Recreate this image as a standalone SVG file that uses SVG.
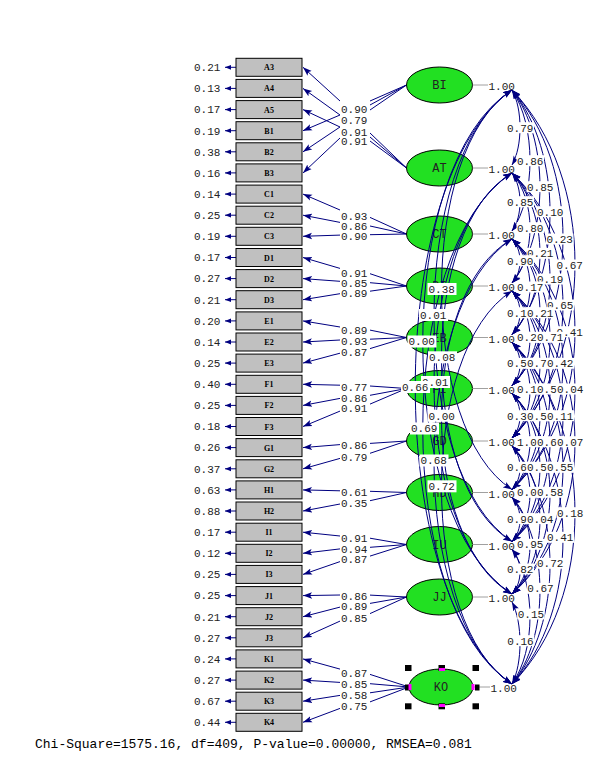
<svg xmlns="http://www.w3.org/2000/svg" width="602" height="776" viewBox="0 0 602 776">
<defs>
<style>
.n{font-family:"Liberation Mono",monospace;font-size:11px;fill:#222}
.bl{font-family:"Liberation Serif",serif;font-size:8px;font-weight:bold;text-anchor:middle;fill:#000}
.fl{font-family:"Liberation Mono",monospace;font-size:12px;text-anchor:middle;fill:#222}
.box{fill:#C0C0C0;stroke:#000;stroke-width:1}
.ell{fill:#22E022;stroke:#000;stroke-width:1}
.ln{stroke:#000080;fill:none;stroke-width:1}
.gv{stroke:#A0A0A0;stroke-width:1}
.wb{fill:#fff}
.hd{fill:#000}
.mg{fill:#FF00FF}
</style>
<marker id="ah" markerUnits="userSpaceOnUse" markerWidth="10" markerHeight="8" refX="9" refY="4" orient="auto-start-reverse"><path d="M0,0.8 L9,4 L0,7.2 L2,4 z" fill="#000080"/></marker>
<marker id="ea" markerUnits="userSpaceOnUse" markerWidth="7" markerHeight="6" refX="6" refY="3" orient="auto"><path d="M0,0.6 L6,3 L0,5.4 z" fill="#000080"/></marker>
</defs>
<rect width="602" height="776" fill="#fff"/>

<g id="indicators">
<g id="A3"><path class="ln" d="M236,67.3 H225" marker-end="url(#ea)"/><text class="n" x="194" y="71.1">0.21</text><rect class="box" x="236" y="58.3" width="66" height="18"/><text class="bl" x="269" y="70.3">A3</text></g>
<g id="A4"><path class="ln" d="M236,88.4 H225" marker-end="url(#ea)"/><text class="n" x="194" y="92.2">0.13</text><rect class="box" x="236" y="79.4" width="66" height="18"/><text class="bl" x="269" y="91.4">A4</text></g>
<g id="A5"><path class="ln" d="M236,109.6 H225" marker-end="url(#ea)"/><text class="n" x="194" y="113.4">0.17</text><rect class="box" x="236" y="100.6" width="66" height="18"/><text class="bl" x="269" y="112.6">A5</text></g>
<g id="B1"><path class="ln" d="M236,130.7 H225" marker-end="url(#ea)"/><text class="n" x="194" y="134.5">0.19</text><rect class="box" x="236" y="121.7" width="66" height="18"/><text class="bl" x="269" y="133.7">B1</text></g>
<g id="B2"><path class="ln" d="M236,151.8 H225" marker-end="url(#ea)"/><text class="n" x="194" y="155.6">0.38</text><rect class="box" x="236" y="142.8" width="66" height="18"/><text class="bl" x="269" y="154.8">B2</text></g>
<g id="B3"><path class="ln" d="M236,172.9 H225" marker-end="url(#ea)"/><text class="n" x="194" y="176.7">0.16</text><rect class="box" x="236" y="163.9" width="66" height="18"/><text class="bl" x="269" y="175.9">B3</text></g>
<g id="C1"><path class="ln" d="M236,194.1 H225" marker-end="url(#ea)"/><text class="n" x="194" y="197.9">0.14</text><rect class="box" x="236" y="185.1" width="66" height="18"/><text class="bl" x="269" y="197.1">C1</text></g>
<g id="C2"><path class="ln" d="M236,215.2 H225" marker-end="url(#ea)"/><text class="n" x="194" y="219">0.25</text><rect class="box" x="236" y="206.2" width="66" height="18"/><text class="bl" x="269" y="218.2">C2</text></g>
<g id="C3"><path class="ln" d="M236,236.3 H225" marker-end="url(#ea)"/><text class="n" x="194" y="240.1">0.19</text><rect class="box" x="236" y="227.3" width="66" height="18"/><text class="bl" x="269" y="239.3">C3</text></g>
<g id="D1"><path class="ln" d="M236,257.5 H225" marker-end="url(#ea)"/><text class="n" x="194" y="261.3">0.17</text><rect class="box" x="236" y="248.5" width="66" height="18"/><text class="bl" x="269" y="260.5">D1</text></g>
<g id="D2"><path class="ln" d="M236,278.6 H225" marker-end="url(#ea)"/><text class="n" x="194" y="282.4">0.27</text><rect class="box" x="236" y="269.6" width="66" height="18"/><text class="bl" x="269" y="281.6">D2</text></g>
<g id="D3"><path class="ln" d="M236,299.7 H225" marker-end="url(#ea)"/><text class="n" x="194" y="303.5">0.21</text><rect class="box" x="236" y="290.7" width="66" height="18"/><text class="bl" x="269" y="302.7">D3</text></g>
<g id="E1"><path class="ln" d="M236,320.9 H225" marker-end="url(#ea)"/><text class="n" x="194" y="324.7">0.20</text><rect class="box" x="236" y="311.9" width="66" height="18"/><text class="bl" x="269" y="323.9">E1</text></g>
<g id="E2"><path class="ln" d="M236,342 H225" marker-end="url(#ea)"/><text class="n" x="194" y="345.8">0.14</text><rect class="box" x="236" y="333" width="66" height="18"/><text class="bl" x="269" y="345">E2</text></g>
<g id="E3"><path class="ln" d="M236,363.1 H225" marker-end="url(#ea)"/><text class="n" x="194" y="366.9">0.25</text><rect class="box" x="236" y="354.1" width="66" height="18"/><text class="bl" x="269" y="366.1">E3</text></g>
<g id="F1"><path class="ln" d="M236,384.3 H225" marker-end="url(#ea)"/><text class="n" x="194" y="388.1">0.40</text><rect class="box" x="236" y="375.3" width="66" height="18"/><text class="bl" x="269" y="387.3">F1</text></g>
<g id="F2"><path class="ln" d="M236,405.4 H225" marker-end="url(#ea)"/><text class="n" x="194" y="409.2">0.25</text><rect class="box" x="236" y="396.4" width="66" height="18"/><text class="bl" x="269" y="408.4">F2</text></g>
<g id="F3"><path class="ln" d="M236,426.5 H225" marker-end="url(#ea)"/><text class="n" x="194" y="430.3">0.18</text><rect class="box" x="236" y="417.5" width="66" height="18"/><text class="bl" x="269" y="429.5">F3</text></g>
<g id="G1"><path class="ln" d="M236,447.6 H225" marker-end="url(#ea)"/><text class="n" x="194" y="451.4">0.26</text><rect class="box" x="236" y="438.6" width="66" height="18"/><text class="bl" x="269" y="450.6">G1</text></g>
<g id="G2"><path class="ln" d="M236,468.8 H225" marker-end="url(#ea)"/><text class="n" x="194" y="472.6">0.37</text><rect class="box" x="236" y="459.8" width="66" height="18"/><text class="bl" x="269" y="471.8">G2</text></g>
<g id="H1"><path class="ln" d="M236,489.9 H225" marker-end="url(#ea)"/><text class="n" x="194" y="493.7">0.63</text><rect class="box" x="236" y="480.9" width="66" height="18"/><text class="bl" x="269" y="492.9">H1</text></g>
<g id="H2"><path class="ln" d="M236,511 H225" marker-end="url(#ea)"/><text class="n" x="194" y="514.8">0.88</text><rect class="box" x="236" y="502" width="66" height="18"/><text class="bl" x="269" y="514">H2</text></g>
<g id="I1"><path class="ln" d="M236,532.2 H225" marker-end="url(#ea)"/><text class="n" x="194" y="536">0.17</text><rect class="box" x="236" y="523.2" width="66" height="18"/><text class="bl" x="269" y="535.2">I1</text></g>
<g id="I2"><path class="ln" d="M236,553.3 H225" marker-end="url(#ea)"/><text class="n" x="194" y="557.1">0.12</text><rect class="box" x="236" y="544.3" width="66" height="18"/><text class="bl" x="269" y="556.3">I2</text></g>
<g id="I3"><path class="ln" d="M236,574.4 H225" marker-end="url(#ea)"/><text class="n" x="194" y="578.2">0.25</text><rect class="box" x="236" y="565.4" width="66" height="18"/><text class="bl" x="269" y="577.4">I3</text></g>
<g id="J1"><path class="ln" d="M236,595.6 H225" marker-end="url(#ea)"/><text class="n" x="194" y="599.4">0.25</text><rect class="box" x="236" y="586.6" width="66" height="18"/><text class="bl" x="269" y="598.6">J1</text></g>
<g id="J2"><path class="ln" d="M236,616.7 H225" marker-end="url(#ea)"/><text class="n" x="194" y="620.5">0.21</text><rect class="box" x="236" y="607.7" width="66" height="18"/><text class="bl" x="269" y="619.7">J2</text></g>
<g id="J3"><path class="ln" d="M236,637.8 H225" marker-end="url(#ea)"/><text class="n" x="194" y="641.6">0.27</text><rect class="box" x="236" y="628.8" width="66" height="18"/><text class="bl" x="269" y="640.8">J3</text></g>
<g id="K1"><path class="ln" d="M236,658.9 H225" marker-end="url(#ea)"/><text class="n" x="194" y="662.7">0.24</text><rect class="box" x="236" y="649.9" width="66" height="18"/><text class="bl" x="269" y="661.9">K1</text></g>
<g id="K2"><path class="ln" d="M236,680.1 H225" marker-end="url(#ea)"/><text class="n" x="194" y="683.9">0.27</text><rect class="box" x="236" y="671.1" width="66" height="18"/><text class="bl" x="269" y="683.1">K2</text></g>
<g id="K3"><path class="ln" d="M236,701.2 H225" marker-end="url(#ea)"/><text class="n" x="194" y="705">0.67</text><rect class="box" x="236" y="692.2" width="66" height="18"/><text class="bl" x="269" y="704.2">K3</text></g>
<g id="K4"><path class="ln" d="M236,722.3 H225" marker-end="url(#ea)"/><text class="n" x="194" y="726.1">0.44</text><rect class="box" x="236" y="713.3" width="66" height="18"/><text class="bl" x="269" y="725.3">K4</text></g>
</g>

<g id="loadings">
<g class="ln" marker-end="url(#ah)">
<path d="M406.5,168 L370,133 M340,101 L303,67.3"/>
<path d="M406.5,168 L370,137 M340,115 L303,88.4"/>
<path d="M406.5,168 L370,141 M340,127 L303,109.6"/>
<path d="M406.5,85 L370,101 M340,115 L303,130.7"/>
<path d="M406.5,85 L370,105 M340,127 L303,151.8"/>
<path d="M406.5,85 L370,110 M340,138 L303,172.9"/>
<path d="M406.5,234 L370,217.4 M340,210 L303,194.1"/>
<path d="M406.5,234 L370,226 M340,222.4 L303,215.2"/>
<path d="M406.5,234 L370,234.7 M340,235.1 L303,236.3"/>
<path d="M406.5,286 L370,273.7 M340,268.4 L303,257.5"/>
<path d="M406.5,286 L370,282.7 M340,281.3 L303,278.6"/>
<path d="M406.5,286 L370,291.2 M340,293.7 L303,299.7"/>
<path d="M406.5,337.5 L370,330.1 M340,327 L303,320.9"/>
<path d="M406.5,337.5 L370,339.2 M340,340 L303,342"/>
<path d="M406.5,337.5 L370,348.6 M340,353.2 L303,363.1"/>
<path d="M406.5,388.5 L370,386 M340,385.2 L303,384.3"/>
<path d="M406.5,388.5 L370,395.3 M340,398.4 L303,405.4"/>
<path d="M406.5,388.5 L370,404.1 M340,411.1 L303,426.5"/>
<path d="M406.5,441 L370,443.4 M340,444.6 L303,447.6"/>
<path d="M406.5,441 L370,453.3 M340,458.4 L303,468.8"/>
<path d="M406.5,492.5 L370,491.3 M340,490.8 L303,489.9"/>
<path d="M406.5,492.5 L370,500.7 M340,504 L303,511"/>
<path d="M406.5,544.5 L370,538.2 M340,536 L303,532.2"/>
<path d="M406.5,544.5 L370,547.3 M340,548.9 L303,553.3"/>
<path d="M406.5,544.5 L370,556.1 M340,561.6 L303,574.4"/>
<path d="M406.5,597 L370,595.1 M340,595 L303,595.6"/>
<path d="M406.5,597 L370,603.4 M340,607.1 L303,616.7"/>
<path d="M406.5,597 L370,613.6 M340,621.1 L303,637.8"/>
<path d="M409,687 L370,674.4 M340,669.1 L303,658.9"/>
<path d="M409,687 L370,683.7 M340,682.4 L303,680.1"/>
<path d="M409,687 L370,692.8 M340,695.4 L303,701.2"/>
<path d="M409,687 L370,701.9 M340,708.4 L303,722.3"/>
</g>
<text class="n" x="341" y="113.1">0.90</text>
<text class="n" x="341" y="123.8">0.79</text>
<text class="n" x="341" y="135.5">0.91</text>
<text class="n" x="341" y="144.8">0.91</text>
<text class="n" x="341" y="219.5">0.93</text>
<text class="n" x="341" y="229.5">0.86</text>
<text class="n" x="341" y="239.8">0.90</text>
<text class="n" x="341" y="276.5">0.91</text>
<text class="n" x="341" y="287.1">0.85</text>
<text class="n" x="341" y="297.1">0.89</text>
<text class="n" x="341" y="333.8">0.89</text>
<text class="n" x="341" y="344.5">0.93</text>
<text class="n" x="341" y="355.5">0.87</text>
<text class="n" x="341" y="390.5">0.77</text>
<text class="n" x="341" y="401.5">0.86</text>
<text class="n" x="341" y="411.8">0.91</text>
<text class="n" x="341" y="448.8">0.86</text>
<text class="n" x="341" y="460.5">0.79</text>
<text class="n" x="341" y="496.1">0.61</text>
<text class="n" x="341" y="507.1">0.35</text>
<text class="n" x="341" y="542.1">0.91</text>
<text class="n" x="341" y="552.8">0.94</text>
<text class="n" x="341" y="563.1">0.87</text>
<text class="n" x="341" y="599.8">0.86</text>
<text class="n" x="341" y="609.5">0.89</text>
<text class="n" x="341" y="621.5">0.85</text>
<text class="n" x="341" y="677.1">0.87</text>
<text class="n" x="341" y="688.1">0.85</text>
<text class="n" x="341" y="698.8">0.58</text>
<text class="n" x="341" y="709.5">0.75</text>
</g>

<g id="factors">
<g id="BI"><ellipse class="ell" cx="439.5" cy="85" rx="33" ry="18"/><text class="fl" x="439.5" y="89">BI</text><line class="gv" x1="472.5" y1="85" x2="488" y2="85"/><text class="n" x="488.5" y="90.3">1.00</text></g>
<g id="AT"><ellipse class="ell" cx="439.5" cy="168" rx="33" ry="18"/><text class="fl" x="439.5" y="172">AT</text><line class="gv" x1="472.5" y1="168" x2="488" y2="168"/><text class="n" x="488.5" y="173.3">1.00</text></g>
<g id="CT"><ellipse class="ell" cx="439.5" cy="234" rx="33" ry="18"/><text class="fl" x="439.5" y="238">CT</text><line class="gv" x1="472.5" y1="234" x2="488" y2="234"/><text class="n" x="488.5" y="239.3">1.00</text></g>
<g id="DI"><ellipse class="ell" cx="439.5" cy="286" rx="33" ry="18"/><text class="fl" x="439.5" y="290">DI</text><line class="gv" x1="472.5" y1="286" x2="488" y2="286"/><text class="n" x="488.5" y="291.3">1.00</text></g>
<g id="EB"><ellipse class="ell" cx="439.5" cy="337.5" rx="33" ry="18"/><text class="fl" x="439.5" y="341.5">EB</text><line class="gv" x1="472.5" y1="337.5" x2="488" y2="337.5"/><text class="n" x="488.5" y="342.8">1.00</text></g>
<g id="FI"><ellipse class="ell" cx="439.5" cy="388.5" rx="33" ry="18"/><text class="fl" x="439.5" y="392.5">FI</text><line class="gv" x1="472.5" y1="388.5" x2="488" y2="388.5"/><text class="n" x="488.5" y="393.8">1.00</text></g>
<g id="GD"><ellipse class="ell" cx="439.5" cy="441" rx="33" ry="18"/><text class="fl" x="439.5" y="445">GD</text><line class="gv" x1="472.5" y1="441" x2="488" y2="441"/><text class="n" x="488.5" y="446.3">1.00</text></g>
<g id="HD"><ellipse class="ell" cx="439.5" cy="492.5" rx="33" ry="18"/><text class="fl" x="439.5" y="496.5">HD</text><line class="gv" x1="472.5" y1="492.5" x2="488" y2="492.5"/><text class="n" x="488.5" y="497.8">1.00</text></g>
<g id="IU"><ellipse class="ell" cx="439.5" cy="544.5" rx="33" ry="18"/><text class="fl" x="439.5" y="548.5">IU</text><line class="gv" x1="472.5" y1="544.5" x2="488" y2="544.5"/><text class="n" x="488.5" y="549.8">1.00</text></g>
<g id="JJ"><ellipse class="ell" cx="439.5" cy="597" rx="33" ry="18"/><text class="fl" x="439.5" y="601">JJ</text><line class="gv" x1="472.5" y1="597" x2="488" y2="597"/><text class="n" x="488.5" y="602.3">1.00</text></g>
<g id="KO"><ellipse class="ell" cx="441" cy="687" rx="32" ry="18"/><text class="fl" x="441" y="691">KO</text><line class="gv" x1="473" y1="687" x2="490" y2="687"/><text class="n" x="490.5" y="692.3">1.00</text></g>
</g>

<g id="covariances">
<g class="ln" marker-start="url(#ah)" marker-end="url(#ah)">
<path d="M512,90 C522.7,108.8 522.7,146.3 512,165"/>
<path d="M512,173 C522.7,187.5 522.7,216.5 512,231"/>
<path d="M512,239 C522.7,250 522.7,272 512,283"/>
<path d="M512,291 C522.7,301.9 522.7,323.6 512,334.5"/>
<path d="M512,342.5 C522.7,353.3 522.7,374.8 512,385.5"/>
<path d="M512,393.5 C522.7,404.6 522.7,426.9 512,438"/>
<path d="M512,446 C522.7,456.9 522.7,478.6 512,489.5"/>
<path d="M512,497.5 C522.7,508.5 522.7,530.5 512,541.5"/>
<path d="M512,549.5 C522.7,560.6 522.7,582.9 512,594"/>
<path d="M512,602 C522.7,622.5 522.7,663.5 512,684"/>
<path d="M512,90 C536,125.3 536,195.8 512,231"/>
<path d="M512,173 C536,200.5 536,255.5 512,283"/>
<path d="M512,239 C536,262.9 536,310.6 512,334.5"/>
<path d="M512,291 C536,314.6 536,361.9 512,385.5"/>
<path d="M512,342.5 C536,366.4 536,414.1 512,438"/>
<path d="M512,393.5 C536,417.5 536,465.5 512,489.5"/>
<path d="M512,446 C536,469.9 536,517.6 512,541.5"/>
<path d="M512,497.5 C536,521.6 536,569.9 512,594"/>
<path d="M512,549.5 C536,583.1 536,650.4 512,684"/>
<path d="M512,90 C549.3,138.3 549.3,234.8 512,283"/>
<path d="M512,173 C549.3,213.4 549.3,294.1 512,334.5"/>
<path d="M512,239 C549.3,275.6 549.3,348.9 512,385.5"/>
<path d="M512,291 C549.3,327.8 549.3,401.3 512,438"/>
<path d="M512,342.5 C549.3,379.3 549.3,452.8 512,489.5"/>
<path d="M512,393.5 C549.3,430.5 549.3,504.5 512,541.5"/>
<path d="M512,446 C549.3,483 549.3,557 512,594"/>
<path d="M512,497.5 C549.3,544.1 549.3,637.4 512,684"/>
<path d="M512,90 C562.7,151.1 562.7,273.4 512,334.5"/>
<path d="M512,173 C562.7,226.1 562.7,332.4 512,385.5"/>
<path d="M512,239 C562.7,288.8 562.7,388.3 512,438"/>
<path d="M512,291 C562.7,340.6 562.7,439.9 512,489.5"/>
<path d="M512,342.5 C562.7,392.3 562.7,491.8 512,541.5"/>
<path d="M512,393.5 C562.7,443.6 562.7,543.9 512,594"/>
<path d="M512,446 C562.7,505.5 562.7,624.5 512,684"/>
<path d="M512,90 C580,163.9 580,311.6 512,385.5"/>
<path d="M512,173 C580,239.3 580,371.8 512,438"/>
<path d="M512,239 C580,301.6 580,426.9 512,489.5"/>
<path d="M512,291 C580,353.6 580,478.9 512,541.5"/>
<path d="M512,342.5 C580,405.4 580,531.1 512,594"/>
<path d="M512,393.5 C580,466.1 580,611.4 512,684"/>
<path d="M512,90 C596,177 596,351 512,438"/>
<path d="M512,173 C596,252.1 596,410.4 512,489.5"/>
<path d="M512,239 C596,314.6 596,465.9 512,541.5"/>
<path d="M512,291 C596,366.8 596,518.3 512,594"/>
<path d="M512,342.5 C596,427.9 596,598.6 512,684"/>
<path d="M512,90 C418,149.9 418,429.6 512,489.5"/>
<path d="M512,173 C418,228.3 418,486.2 512,541.5"/>
<path d="M512,239 C418,292.3 418,540.8 512,594"/>
<path d="M512,291 C418,350 418,625 512,684"/>
<path d="M512,90 C408,157.7 408,473.8 512,541.5"/>
<path d="M512,173 C408,236.2 408,530.8 512,594"/>
<path d="M512,239 C408,305.8 408,617.3 512,684"/>
<path d="M512,90 C393,165.6 393,518.4 512,594"/>
<path d="M512,173 C393,249.7 393,607.4 512,684"/>
<path d="M512,90 C383,179.1 383,594.9 512,684"/>
</g>
<g id="cov-labels">
<rect class="wb" x="506.5" y="122.2" width="27.5" height="11"/><text class="n" x="507" y="131.5">0.79</text>
<rect class="wb" x="516.5" y="155.2" width="27.5" height="11"/><text class="n" x="517" y="164.5">0.86</text>
<rect class="wb" x="526.5" y="181.2" width="27.5" height="11"/><text class="n" x="527" y="190.5">0.85</text>
<rect class="wb" x="506.5" y="196.2" width="27.5" height="11"/><text class="n" x="507" y="205.5">0.85</text>
<rect class="wb" x="536.5" y="206.2" width="27.5" height="11"/><text class="n" x="537" y="215.5">0.10</text>
<rect class="wb" x="516.5" y="222.2" width="27.5" height="11"/><text class="n" x="517" y="231.5">0.80</text>
<rect class="wb" x="546" y="233.5" width="27.5" height="11"/><text class="n" x="546.5" y="242.8">0.23</text>
<rect class="wb" x="526.5" y="247.8" width="27.5" height="11"/><text class="n" x="527" y="257.1">0.21</text>
<rect class="wb" x="506.5" y="255.2" width="27.5" height="11"/><text class="n" x="507" y="264.5">0.90</text>
<rect class="wb" x="556" y="259.5" width="27.5" height="11"/><text class="n" x="556.5" y="268.8">0.67</text>
<rect class="wb" x="536.5" y="273.5" width="27.5" height="11"/><text class="n" x="537" y="282.8">0.19</text>
<rect class="wb" x="516.5" y="281.5" width="27.5" height="11"/><text class="n" x="517" y="290.8">0.17</text>
<rect class="wb" x="546.5" y="299.5" width="27.5" height="11"/><text class="n" x="547" y="308.8">0.65</text>
<rect class="wb" x="506.5" y="307.2" width="27.5" height="11"/><text class="n" x="507" y="316.5">0.10</text>
<rect class="wb" x="526.5" y="307.2" width="27.5" height="11"/><text class="n" x="527" y="316.5">0.21</text>
<rect class="wb" x="556" y="326.2" width="27.5" height="11"/><text class="n" x="556.5" y="335.5">0.41</text>
<rect class="wb" x="516.5" y="331.8" width="27.5" height="11"/><text class="n" x="517" y="341.1">0.20</text>
<rect class="wb" x="536.5" y="331.8" width="27.5" height="11"/><text class="n" x="537" y="341.1">0.71</text>
<rect class="wb" x="506.5" y="357.8" width="27.5" height="11"/><text class="n" x="507" y="367.1">0.50</text>
<rect class="wb" x="526.5" y="357.8" width="27.5" height="11"/><text class="n" x="527" y="367.1">0.70</text>
<rect class="wb" x="546.5" y="357.8" width="27.5" height="11"/><text class="n" x="547" y="367.1">0.42</text>
<rect class="wb" x="516.5" y="383.5" width="27.5" height="11"/><text class="n" x="517" y="392.8">0.10</text>
<rect class="wb" x="536.5" y="383.5" width="27.5" height="11"/><text class="n" x="537" y="392.8">0.50</text>
<rect class="wb" x="556.5" y="383.5" width="27.5" height="11"/><text class="n" x="557" y="392.8">0.04</text>
<rect class="wb" x="506.5" y="410.2" width="27.5" height="11"/><text class="n" x="507" y="419.5">0.30</text>
<rect class="wb" x="526.5" y="410.2" width="27.5" height="11"/><text class="n" x="527" y="419.5">0.50</text>
<rect class="wb" x="546.5" y="410.2" width="27.5" height="11"/><text class="n" x="547" y="419.5">0.11</text>
<rect class="wb" x="516.5" y="436.2" width="27.5" height="11"/><text class="n" x="517" y="445.5">1.00</text>
<rect class="wb" x="536.5" y="436.2" width="27.5" height="11"/><text class="n" x="537" y="445.5">0.60</text>
<rect class="wb" x="556.5" y="436.2" width="27.5" height="11"/><text class="n" x="557" y="445.5">0.07</text>
<rect class="wb" x="506.5" y="461.8" width="27.5" height="11"/><text class="n" x="507" y="471.1">0.60</text>
<rect class="wb" x="526.5" y="461.8" width="27.5" height="11"/><text class="n" x="527" y="471.1">0.50</text>
<rect class="wb" x="546.5" y="461.8" width="27.5" height="11"/><text class="n" x="547" y="471.1">0.55</text>
<rect class="wb" x="516.5" y="486.8" width="27.5" height="11"/><text class="n" x="517" y="496.1">0.00</text>
<rect class="wb" x="536.5" y="486.8" width="27.5" height="11"/><text class="n" x="537" y="496.1">0.58</text>
<rect class="wb" x="556.5" y="507.2" width="27.5" height="11"/><text class="n" x="557" y="516.5">0.18</text>
<rect class="wb" x="506.5" y="513.2" width="27.5" height="11"/><text class="n" x="507" y="522.5">0.90</text>
<rect class="wb" x="526.5" y="513.2" width="27.5" height="11"/><text class="n" x="527" y="522.5">0.04</text>
<rect class="wb" x="546.5" y="531.8" width="27.5" height="11"/><text class="n" x="547" y="541.1">0.41</text>
<rect class="wb" x="516.5" y="538.8" width="27.5" height="11"/><text class="n" x="517" y="548.1">0.95</text>
<rect class="wb" x="536.5" y="557.8" width="27.5" height="11"/><text class="n" x="537" y="567.1">0.72</text>
<rect class="wb" x="506.5" y="563.5" width="27.5" height="11"/><text class="n" x="507" y="572.8">0.82</text>
<rect class="wb" x="526.8" y="582.8" width="27.5" height="11"/><text class="n" x="527.3" y="592.1">0.67</text>
<rect class="wb" x="517.2" y="608.5" width="27.5" height="11"/><text class="n" x="517.7" y="617.8">0.15</text>
<rect class="wb" x="506.8" y="635.2" width="27.5" height="11"/><text class="n" x="507.3" y="644.5">0.16</text>
<rect class="wb" x="427.5" y="283" width="29" height="12"/><text class="n" x="428.5" y="292.8">0.38</text>
<rect class="wb" x="419" y="309" width="29" height="12"/><text class="n" x="420" y="318.8">0.01</text>
<rect class="wb" x="407.5" y="335.5" width="29" height="12"/><text class="n" x="408.5" y="345.3">0.00</text>
<rect class="wb" x="428" y="351.3" width="29" height="12"/><text class="n" x="429" y="361.1">0.08</text>
<rect class="wb" x="421" y="376" width="29" height="12"/><text class="n" x="422" y="385.8">0.01</text>
<rect class="wb" x="401" y="381" width="29" height="12"/><text class="n" x="402" y="390.8">0.66</text>
<rect class="wb" x="427.5" y="409.7" width="29" height="12"/><text class="n" x="428.5" y="419.5">0.00</text>
<rect class="wb" x="410" y="422.5" width="29" height="12"/><text class="n" x="411" y="432.3">0.69</text>
<rect class="wb" x="419.5" y="454.5" width="29" height="12"/><text class="n" x="420.5" y="464.3">0.68</text>
<rect class="wb" x="427.5" y="480.3" width="29" height="12"/><text class="n" x="428.5" y="490.1">0.72</text>
</g>
</g>

<g id="selection">
<rect class="hd" x="405" y="665" width="6.5" height="6"/>
<rect class="hd" x="438.5" y="665" width="6.5" height="6"/>
<rect class="hd" x="472.5" y="665" width="6.5" height="6"/>
<rect class="hd" x="405" y="703.3" width="6.5" height="6"/>
<rect class="hd" x="438.5" y="703.3" width="6.5" height="6"/>
<rect class="hd" x="472.5" y="703.3" width="6.5" height="6"/>
<rect class="hd" x="405" y="684.5" width="4.5" height="6"/>
<rect class="hd" x="475" y="684.5" width="4.5" height="6"/>
<rect class="mg" x="439" y="668" width="6" height="3"/>
<rect class="mg" x="439" y="704" width="6" height="3"/>
<rect class="mg" x="408.5" y="684" width="3" height="6"/>
<rect class="mg" x="471.5" y="684" width="3" height="6"/>
</g>

<text x="35" y="747.5" style="font-family:'Liberation Mono',monospace;font-size:13px;fill:#000">Chi-Square=1575.16, df=409, P-value=0.00000, RMSEA=0.081</text>
</svg>
